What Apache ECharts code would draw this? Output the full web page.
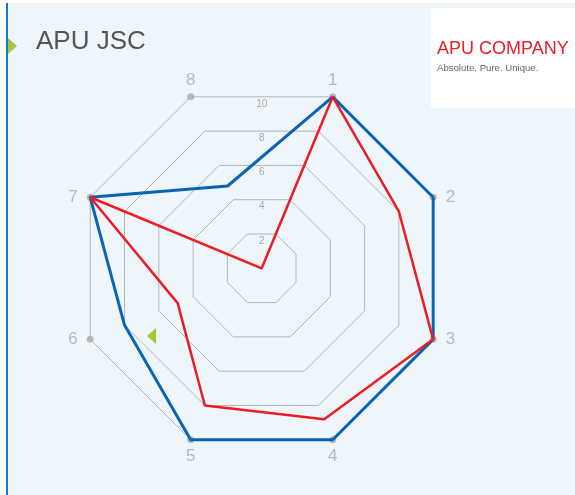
<!DOCTYPE html>
<html><head><meta charset="utf-8">
<script src="https://cdn.jsdelivr.net/npm/echarts@6/dist/echarts.min.js"></script>
<style>html,body{margin:0;padding:0;background:#fff}#c{width:575px;height:495px}</style>
</head><body><div id="c"></div>
<script>
// ---- data ----
const indicators = ['1', '2', '3', '4', '5', '6', '7', '8'];
const maxValue = 10;
const ringLabels = [2, 4, 6, 8, 10];
const seriesBlue = [10, 10, 10, 10, 10, 8, 10, 4.8];
const seriesRed = [10, 8, 10, 8.8, 8, 4.9, 10, 0];
const titleText = 'APU JSC';
const logoName = 'APU COMPANY';
const logoTag = 'Absolute. Pure. Unique.';

// ECharts radar runs counter-clockwise; the reference runs clockwise -> 1,8,7,...,2
const order = [0, 7, 6, 5, 4, 3, 2, 1];
const reorder = a => order.map(i => a[i]);

const cx = 261.7, cy = 268.3, R = 185.6;
const n = indicators.length;
const step = 360 / n;
// polar radius axis spans the inner (edge) distance of the octagon, so the vertices sit at max / cos(step/2)
const vertexRadius = maxValue / Math.cos(Math.PI / n);
const labelPos = ['top', 'right', 'right', 'bottom', 'bottom', 'left', 'left', 'top'];
const vertexData = indicators.map((name, i) => ({
  name: name,
  value: [vertexRadius, step / 2 + step * i],
  label: {position: labelPos[i], distance: (labelPos[i] === 'left' || labelPos[i] === 'right') ? 9 : 5}
}));

const chart = echarts.init(document.getElementById('c'), null, {renderer: 'canvas'});
chart.setOption({
  backgroundColor: '#ffffff',
  animation: false,
  title: {
    text: titleText, left: 36, top: 29, padding: 0,
    textStyle: {fontFamily: 'Liberation Sans', fontSize: 26, fontWeight: 'normal', color: '#555555'}
  },
  graphic: [
    {type: 'rect', z: -10, shape: {x: 8, y: 3, width: 567, height: 492}, style: {fill: '#eef6fc'}},
    {type: 'rect', shape: {x: 6, y: 3, width: 2, height: 492}, style: {fill: '#1b75c8'}},
    {type: 'rect', shape: {x: 431, y: 8, width: 144, height: 100}, style: {fill: '#ffffff'}},
    {type: 'polygon', shape: {points: [[8, 38], [8, 54], [17, 46]]}, style: {fill: '#9dc93a'}},
    {type: 'polygon', shape: {points: [[156, 328], [156, 344], [147, 336]]}, style: {fill: '#9dc93a'}},
    {type: 'text', style: {x: 437, y: 49, text: logoName, fill: '#e8202a', font: '18px "Liberation Sans"', textVerticalAlign: 'middle'}},
    {type: 'text', style: {x: 437, y: 68, text: logoTag, fill: '#666666', font: '9.6px "Liberation Sans"', textVerticalAlign: 'middle'}}
  ],
  polar: {center: [cx, cy], radius: R * Math.cos(Math.PI / n)},
  angleAxis: {show: false, startAngle: 90, min: 0, max: 360},
  radiusAxis: {
    min: 0, max: maxValue, interval: ringLabels[1] - ringLabels[0],
    axisLine: {show: false}, axisTick: {show: false}, splitLine: {show: false},
    axisLabel: {
      showMinLabel: false, color: '#aaaaaa', fontSize: 10, fontFamily: 'Liberation Sans',
      margin: 0, align: 'center', verticalAlign: 'top', padding: [2, 0, 0, 0],
      formatter: v => ringLabels.includes(v) ? String(v) : ''
    }
  },
  radar: {
    center: [cx, cy], radius: R, startAngle: 90 - step / 2, shape: 'polygon', splitNumber: ringLabels.length,
    indicator: reorder(indicators).map(nm => ({name: nm, min: 0, max: maxValue})),
    axisName: {show: false},
    splitLine: {lineStyle: {color: '#b4b4b4', width: 1}},
    splitArea: {show: false},
    axisLine: {show: false},
    axisTick: {show: false},
    axisLabel: {show: false}
  },
  series: [{
    type: 'scatter', coordinateSystem: 'polar', clip: false, silent: true,
    symbol: 'circle', symbolSize: 7, itemStyle: {color: '#aaaaaa'},
    label: {show: true, formatter: '{b}', color: '#aaaaaa', fontSize: 17, fontFamily: 'Liberation Sans'},
    data: vertexData, z: 1
  }, {
    type: 'radar', z: 2,
    data: [
      {value: reorder(seriesBlue), symbol: 'none', lineStyle: {color: '#0b64b0', width: 3}},
      {value: reorder(seriesRed), symbol: 'none', lineStyle: {color: '#ec1c24', width: 2.5}}
    ]
  }]
});
</script></body></html>
